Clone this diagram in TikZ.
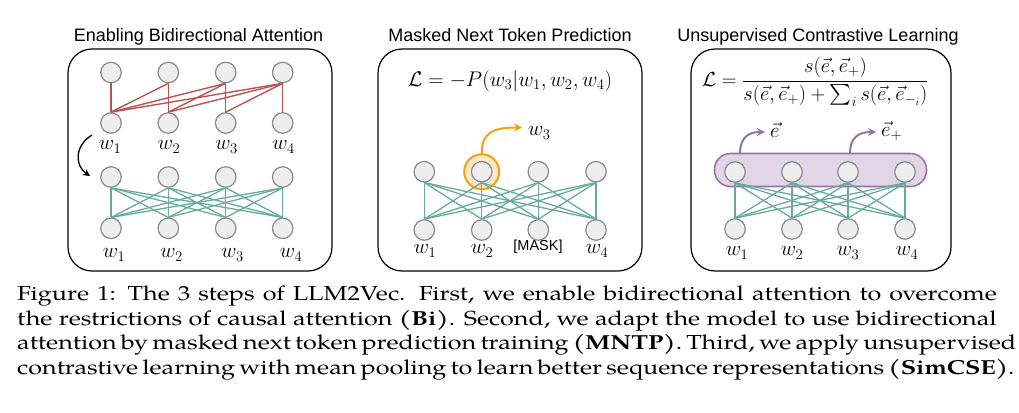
\RequirePackage{fix-cm}
\documentclass[tikz,border=0pt]{standalone}
\usepackage{fontspec}
\setmainfont{TeX Gyre Pagella}
\newfontfamily\sanslab{Liberation Sans}
\usepackage{amsmath}
\usepackage{graphicx}
\usetikzlibrary{arrows.meta}
\definecolor{redE}{HTML}{B85450}
\definecolor{tealE}{HTML}{67AB9F}
\definecolor{nodeF}{HTML}{EEEEEE}
\definecolor{nodeD}{HTML}{8A8A8A}
\definecolor{orgD}{HTML}{F0A30A}
\definecolor{orgF}{HTML}{FFE6CC}
\definecolor{purD}{HTML}{9673A6}
\definecolor{purF}{HTML}{E1D5E7}
\newcommand{\capline}[1]{\hbox to 790pt{#1}}
\begin{document}
\begin{tikzpicture}[x=1pt,y=-1pt,
  tok/.style={circle,draw=nodeD,fill=nodeF,line width=1.2pt,minimum size=20.5pt,inner sep=0pt},
  panel/.style={draw=black,line width=1.2pt,rounded corners=24pt},
  ttl/.style={font=\sanslab\fontsize{18}{20}\selectfont,anchor=base,inner sep=0pt},
  lbl/.style={font=\fontsize{21}{23}\selectfont,inner sep=0pt},
  redl/.style={draw=redE,line width=1.4pt},
  teall/.style={draw=tealE,line width=1.3pt},
  tipS/.style={-{Stealth[length=8pt,width=8pt]}},
]
\path[use as bounding box] (0,0) rectangle (1019,412);

% ---------- panels and titles
\draw[panel] (68,49) rectangle (332,271);
\draw[panel] (378,49) rectangle (642,271);
\draw[panel] (691,49) rectangle (951,271);
\node[ttl] (t1) at (198.5,41.5) {Enabling Bidirectional Attention};
\node[ttl] (t2) at (510,41.5) {Masked Next Token Prediction};
\node[ttl] (t3) at (818,41.5) {Unsupervised Contrastive Learning};

% ---------- panel 1
\foreach \x [count=\k] in {111,168.3,225.7,282.7}{
  \node[tok] (pa\k) at (\x,72.5) {};
  \node[tok] (pb\k) at (\x,123) {};
  \node[tok] (pc\k) at (\x,177) {};
  \node[tok] (pd\k) at (\x,228.3) {};
}
\foreach \j in {1,...,4}{
  \foreach \i in {\j,...,4}{
    \draw[redl] (pb\j.north) -- (pa\i.south);
  }
}
\foreach \i in {1,...,4}{
  \foreach \j in {1,...,4}{
    \draw[teall] (pc\i.south) -- (pd\j.north);
  }
}
\node[lbl] (lb1) at (110,147) {$w_1$};
\node[lbl] (lb2) at (169,147) {$w_2$};
\node[lbl] (lb3) at (226.5,147) {$w_3$};
\node[lbl] (lb4) at (283.5,147) {$w_4$};
\node[lbl] (ld1) at (114,255) {$w_1$};
\node[lbl] (ld2) at (171.5,255) {$w_2$};
\node[lbl] (ld3) at (232.5,255) {$w_3$};
\node[lbl] (ld4) at (291,255) {$w_4$};
\coordinate (arS) at (92,135);
\coordinate (arE) at (90,176);
\draw[line width=1.3pt,-{Stealth[length=7pt,width=7pt]}] (arS) .. controls (74,146) and (75,166) .. (arE);

% ---------- panel 2
\node[font=\fontsize{21.2}{24}\selectfont,inner sep=0pt] (f2) at (510,81) {$\mathcal{L} = -P(w_3|w_1, w_2, w_4)$};
\node[circle,draw=orgD,fill=orgF,line width=2pt,minimum size=35pt,inner sep=0pt] (ring) at (481.7,171.7) {};
\foreach \x [count=\k] in {424.3,481.7,538.3,596}{
  \node[tok] (qa\k) at (\x,171.7) {};
  \node[tok] (qb\k) at (\x,230) {};
}
\foreach \i in {1,...,4}{
  \foreach \j in {1,...,4}{
    \draw[teall] (qa\i.south) -- (qb\j.north);
  }
}
\node[lbl] (m1) at (425,251) {$w_1$};
\node[lbl] (m2) at (482,251) {$w_2$};
\node[font=\sanslab\fontsize{14.5}{16}\selectfont,inner sep=0pt] (m3) at (538,247) {[MASK]};
\node[lbl] (m4) at (597,251) {$w_4$};
\coordinate (oE) at (522,127.5);
\node[lbl,anchor=west] (ow3) at (528,133) {$w_3$};
\draw[orgD,line width=2pt,tipS] (ring.north) .. controls (482,133) and (492,127.5) .. (oE);

% ---------- panel 3
\node[font=\fontsize{20.4}{23}\selectfont,anchor=west,inner sep=0pt] (f3) at (702,81.5)
  {$\displaystyle \mathcal{L} = \frac{s(\vec{e},\vec{e}_+)}{s(\vec{e},\vec{e}_+)+\sum_i s(\vec{e},\vec{e}_{-_i})}$};
\node[draw=purD,fill=purF,line width=1.6pt,rounded corners=16pt,minimum width=212pt,minimum height=33pt,inner sep=0pt] (pool) at (820.5,170) {};
\foreach \x [count=\k] in {735,792,848,905}{
  \node[tok] (sa\k) at (\x,172) {};
  \node[tok] (sb\k) at (\x,229) {};
}
\foreach \i in {1,...,4}{
  \foreach \j in {1,...,4}{
    \draw[teall] (sa\i.south) -- (sb\j.north);
  }
}
\node[lbl] (n1) at (737,253) {$w_1$};
\node[lbl] (n2) at (792,253) {$w_2$};
\node[lbl] (n3) at (848,253) {$w_3$};
\node[lbl] (n4) at (907,253) {$w_4$};
\coordinate (pS1) at (740,153.5);
\coordinate (pE1) at (765,132);
\coordinate (pS2) at (850,153.5);
\coordinate (pE2) at (876,132);
\draw[purD,line width=2pt,tipS] (pS1) .. controls (740,138) and (748,132) .. (pE1);
\draw[purD,line width=2pt,tipS] (pS2) .. controls (850,138) and (858,132) .. (pE2);
\node[lbl,anchor=west] (ve) at (770,130) {$\vec{e}$};
\node[lbl,anchor=west] (vep) at (881,131) {$\vec{e}_+$};

% ---------- caption
\node[anchor=base west,inner sep=0pt] (cap) at (17,300.5) {\scalebox{1.24}[1]{\parbox[t]{796pt}{\fontsize{20.3}{24.5}\selectfont
\capline{Figure 1: The 3 steps of LLM2Vec. First, we enable bidirectional attention to overcome}
\capline{the restrictions of causal attention \textbf{(Bi)}. Second, we adapt the model to use bidirectional}
\capline{attention by masked next token prediction training \textbf{(MNTP)}. Third, we apply unsupervised}
\capline{contrastive learning with mean pooling to learn better sequence representations \textbf{(SimCSE)}.}}}};
\end{tikzpicture}
\end{document}
